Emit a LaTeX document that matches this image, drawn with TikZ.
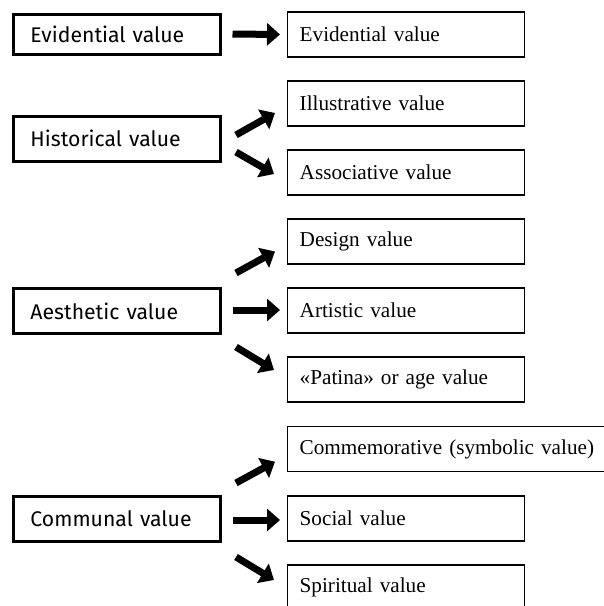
\documentclass[tikz,border=0pt]{standalone}
\usepackage{fontspec}
\setmainfont{Liberation Serif}
\newfontfamily\dinfont{Fira Sans}
\usetikzlibrary{calc,arrows.meta}
\tikzset{
  heritage/.style={draw, line width=3pt, rectangle, minimum height=45pt, text width=173pt, inner xsep=17pt, inner ysep=0pt, align=left, font=\dinfont\fontsize{21.2}{24}\selectfont, anchor=west},
  aspect/.style={draw, line width=1.4pt, rectangle, minimum height=45pt, text width=213pt, inner xsep=12pt, inner ysep=0pt, align=left, font=\fontsize{21.2}{24}\selectfont, anchor=west},
  fatarrow/.style={line width=7pt, -{Triangle[length=13pt,width=22pt]}},
}

\begin{document}
\begin{tikzpicture}[x=1pt, y=-1pt]
    \useasboundingbox (0,0) rectangle (604,606);
    \clip (0,0) rectangle (604,606);
    % left column
    \node[heritage, minimum height=40pt] (evid) at (12,34) {Evidential value};
    \node[heritage] (hist) at (12,138.5) {Historical value};
    \node[heritage] (aest) at (12,311) {Aesthetic value};
    \node[heritage] (comm) at (12,518.5) {Communal value};
    % right column
    \node[aspect] (evidv) at (287,34.5) {Evidential value};
    \node[aspect] (illus) at (287,103.5) {Illustrative value};
    \node[aspect] (assoc) at (287,172.5) {Associative value};
    \node[aspect] (design) at (287,241.5) {Design value};
    \node[aspect] (artis) at (287,310.5) {Artistic value};
    \node[aspect] (patina) at (287,379.5) {«Patina» or age value};
    \node[aspect, text width=298pt] (commem) at (287,449) {Commemorative (symbolic value)};
    \node[aspect] (social) at (287,518.5) {Social value};
    \node[aspect] (spirit) at (287,587.5) {Spiritual value};
    % arrows
    \draw[fatarrow] ($(evid.east)+(10.5,0)$) -- ($(evidv.west)+(-7,0)$);
    \draw[fatarrow] ($(hist.east)+(14,-3.5)$) -- ($(illus.west)+(-12,9.5)$);
    \draw[fatarrow] ($(hist.east)+(14,13.5)$) -- ($(assoc.west)+(-13,1.5)$);
    \draw[fatarrow] ($(aest.east)+(14,-38)$) -- ($(design.west)+(-12,10)$);
    \draw[fatarrow] ($(aest.east)+(10.5,-1)$) -- ($(artis.west)+(-7,-0.5)$);
    \draw[fatarrow] ($(aest.east)+(14,36)$) -- ($(patina.west)+(-13,-9.5)$);
    \draw[fatarrow] ($(comm.east)+(14,-35.5)$) -- ($(commem.west)+(-12,12.7)$);
    \draw[fatarrow] ($(comm.east)+(10.5,1.5)$) -- ($(social.west)+(-7,1.5)$);
    \draw[fatarrow] ($(comm.east)+(14,38.5)$) -- ($(spirit.west)+(-13,-7.5)$);
\end{tikzpicture}
\end{document}
